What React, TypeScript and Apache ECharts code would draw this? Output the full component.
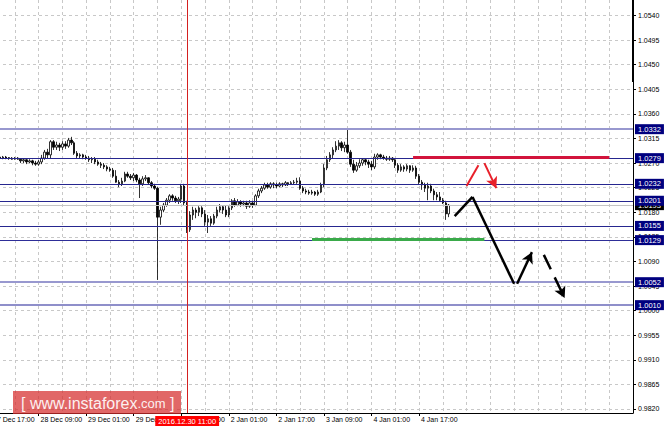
import React, { useEffect, useRef } from 'react';
import * as echarts from 'echarts';

// ---- data ----
const xTickLabels = ['27 Dec 17:00', '28 Dec 09:00', '29 Dec 01:00', '29 Dec 17:00', '30 Dec 09:00', '2 Jan 01:00', '2 Jan 17:00', '3 Jan 09:00', '4 Jan 01:00', '4 Jan 17:00'];
const barsPerLabel = 16;
const barsPerGridLine = 8;
const totalBars = 217;

// [open, close, low, high], one per hourly bar
const candles: number[][] = [
  [1.0279, 1.0281, 1.0277, 1.0283], [1.0281, 1.0279, 1.0277, 1.0283], [1.0279, 1.0281, 1.0277, 1.0285],
  [1.0281, 1.0279, 1.0277, 1.0285], [1.0279, 1.0281, 1.0277, 1.0283], [1.0281, 1.0279, 1.0277, 1.0283],
  [1.0279, 1.0280, 1.0276, 1.0281], [1.0279, 1.0277, 1.0276, 1.0281], [1.0277, 1.0279, 1.0276, 1.0281],
  [1.0279, 1.0277, 1.0276, 1.0281], [1.0277, 1.0274, 1.0270, 1.0279], [1.0274, 1.0276, 1.0270, 1.0279],
  [1.0276, 1.0272, 1.0268, 1.0277], [1.0272, 1.0274, 1.0270, 1.0277], [1.0274, 1.0270, 1.0266, 1.0276],
  [1.0270, 1.0268, 1.0265, 1.0274], [1.0268, 1.0272, 1.0265, 1.0276], [1.0272, 1.0279, 1.0268, 1.0285],
  [1.0279, 1.0290, 1.0276, 1.0294], [1.0290, 1.0285, 1.0279, 1.0296], [1.0285, 1.0309, 1.0279, 1.0312],
  [1.0309, 1.0299, 1.0294, 1.0312], [1.0299, 1.0303, 1.0294, 1.0309], [1.0303, 1.0299, 1.0292, 1.0307],
  [1.0299, 1.0305, 1.0294, 1.0310], [1.0305, 1.0301, 1.0296, 1.0310], [1.0301, 1.0312, 1.0298, 1.0316],
  [1.0312, 1.0307, 1.0303, 1.0318], [1.0307, 1.0288, 1.0285, 1.0310], [1.0288, 1.0283, 1.0279, 1.0292],
  [1.0283, 1.0285, 1.0279, 1.0288], [1.0285, 1.0281, 1.0277, 1.0287], [1.0281, 1.0279, 1.0276, 1.0285],
  [1.0279, 1.0276, 1.0272, 1.0283], [1.0276, 1.0277, 1.0270, 1.0281], [1.0277, 1.0272, 1.0268, 1.0281],
  [1.0272, 1.0268, 1.0265, 1.0276], [1.0268, 1.0266, 1.0261, 1.0272], [1.0266, 1.0263, 1.0259, 1.0270],
  [1.0263, 1.0259, 1.0255, 1.0266], [1.0259, 1.0257, 1.0254, 1.0263], [1.0257, 1.0246, 1.0243, 1.0261],
  [1.0246, 1.0235, 1.0234, 1.0257], [1.0235, 1.0232, 1.0226, 1.0239], [1.0232, 1.0237, 1.0228, 1.0243],
  [1.0237, 1.0250, 1.0235, 1.0254], [1.0250, 1.0246, 1.0243, 1.0254], [1.0246, 1.0243, 1.0239, 1.0250],
  [1.0243, 1.0248, 1.0237, 1.0252], [1.0248, 1.0239, 1.0235, 1.0250], [1.0239, 1.0232, 1.0206, 1.0243],
  [1.0232, 1.0241, 1.0228, 1.0246], [1.0241, 1.0243, 1.0237, 1.0248], [1.0243, 1.0234, 1.0230, 1.0244],
  [1.0234, 1.0228, 1.0224, 1.0237], [1.0228, 1.0224, 1.0221, 1.0232], [1.0224, 1.0171, 1.0056, 1.0226],
  [1.0171, 1.0184, 1.0157, 1.0190], [1.0184, 1.0193, 1.0180, 1.0197], [1.0193, 1.0202, 1.0190, 1.0206],
  [1.0202, 1.0210, 1.0197, 1.0213], [1.0210, 1.0206, 1.0201, 1.0213], [1.0206, 1.0201, 1.0197, 1.0210],
  [1.0201, 1.0204, 1.0195, 1.0208], [1.0204, 1.0228, 1.0197, 1.0232], [1.0228, 1.0197, 1.0193, 1.0232],
  [1.0197, 1.0148, 1.0142, 1.0201], [1.0148, 1.0175, 1.0144, 1.0182], [1.0175, 1.0184, 1.0166, 1.0190],
  [1.0184, 1.0180, 1.0169, 1.0188], [1.0180, 1.0188, 1.0173, 1.0191], [1.0188, 1.0177, 1.0171, 1.0191],
  [1.0177, 1.0162, 1.0155, 1.0184], [1.0162, 1.0168, 1.0142, 1.0175], [1.0168, 1.0160, 1.0155, 1.0173],
  [1.0160, 1.0173, 1.0157, 1.0177], [1.0173, 1.0184, 1.0169, 1.0190], [1.0184, 1.0190, 1.0180, 1.0195],
  [1.0190, 1.0184, 1.0177, 1.0193], [1.0184, 1.0175, 1.0171, 1.0193], [1.0175, 1.0188, 1.0171, 1.0191],
  [1.0188, 1.0201, 1.0184, 1.0204], [1.0201, 1.0193, 1.0190, 1.0206], [1.0193, 1.0199, 1.0191, 1.0204],
  [1.0199, 1.0195, 1.0190, 1.0202], [1.0195, 1.0197, 1.0191, 1.0201], [1.0197, 1.0191, 1.0186, 1.0201],
  [1.0191, 1.0197, 1.0188, 1.0202], [1.0197, 1.0193, 1.0188, 1.0201], [1.0193, 1.0210, 1.0191, 1.0213],
  [1.0210, 1.0219, 1.0206, 1.0223], [1.0219, 1.0224, 1.0215, 1.0228], [1.0224, 1.0230, 1.0221, 1.0234],
  [1.0230, 1.0226, 1.0223, 1.0234], [1.0226, 1.0232, 1.0223, 1.0235], [1.0232, 1.0230, 1.0224, 1.0235],
  [1.0230, 1.0228, 1.0224, 1.0234], [1.0228, 1.0232, 1.0226, 1.0235], [1.0232, 1.0230, 1.0226, 1.0234],
  [1.0230, 1.0234, 1.0228, 1.0237], [1.0234, 1.0232, 1.0228, 1.0235], [1.0232, 1.0234, 1.0230, 1.0237],
  [1.0234, 1.0235, 1.0230, 1.0239], [1.0235, 1.0237, 1.0232, 1.0243], [1.0237, 1.0224, 1.0221, 1.0244],
  [1.0224, 1.0219, 1.0215, 1.0228], [1.0219, 1.0217, 1.0213, 1.0223], [1.0217, 1.0215, 1.0212, 1.0221],
  [1.0215, 1.0217, 1.0212, 1.0221], [1.0217, 1.0213, 1.0210, 1.0219], [1.0213, 1.0217, 1.0210, 1.0221],
  [1.0217, 1.0230, 1.0215, 1.0234], [1.0230, 1.0261, 1.0226, 1.0268], [1.0261, 1.0276, 1.0257, 1.0283],
  [1.0276, 1.0285, 1.0272, 1.0290], [1.0285, 1.0294, 1.0279, 1.0299], [1.0294, 1.0301, 1.0290, 1.0310],
  [1.0301, 1.0307, 1.0294, 1.0312], [1.0307, 1.0298, 1.0292, 1.0310], [1.0298, 1.0303, 1.0290, 1.0309],
  [1.0303, 1.0290, 1.0287, 1.0334], [1.0290, 1.0268, 1.0263, 1.0294], [1.0268, 1.0257, 1.0252, 1.0276],
  [1.0257, 1.0265, 1.0254, 1.0272], [1.0265, 1.0270, 1.0261, 1.0277], [1.0270, 1.0276, 1.0265, 1.0279],
  [1.0276, 1.0272, 1.0266, 1.0279], [1.0272, 1.0268, 1.0261, 1.0276], [1.0268, 1.0263, 1.0257, 1.0274],
  [1.0263, 1.0281, 1.0259, 1.0287], [1.0281, 1.0285, 1.0276, 1.0288], [1.0285, 1.0281, 1.0277, 1.0287],
  [1.0281, 1.0279, 1.0276, 1.0285], [1.0279, 1.0277, 1.0274, 1.0283], [1.0277, 1.0279, 1.0274, 1.0283],
  [1.0279, 1.0276, 1.0272, 1.0281], [1.0276, 1.0266, 1.0261, 1.0279], [1.0266, 1.0257, 1.0252, 1.0270],
  [1.0257, 1.0263, 1.0254, 1.0268], [1.0263, 1.0259, 1.0254, 1.0266], [1.0259, 1.0265, 1.0255, 1.0268],
  [1.0265, 1.0257, 1.0252, 1.0266], [1.0257, 1.0261, 1.0254, 1.0266], [1.0261, 1.0246, 1.0241, 1.0265],
  [1.0246, 1.0235, 1.0230, 1.0250], [1.0235, 1.0230, 1.0221, 1.0239], [1.0230, 1.0224, 1.0217, 1.0234],
  [1.0224, 1.0228, 1.0202, 1.0234], [1.0228, 1.0219, 1.0215, 1.0232], [1.0219, 1.0212, 1.0202, 1.0223],
  [1.0212, 1.0208, 1.0202, 1.0217], [1.0208, 1.0202, 1.0199, 1.0217], [1.0202, 1.0197, 1.0195, 1.0206],
  [1.0197, 1.0177, 1.0166, 1.0201], [1.0177, 1.0193, 1.0171, 1.0195],
];

const yTickValues = [0.982, 0.9865, 0.991, 0.9955, 1.0, 1.0045, 1.009, 1.0135, 1.018, 1.0225, 1.027, 1.0315, 1.036, 1.0405, 1.045, 1.0495, 1.054];
const yMin = 0.98126;
const yMax = 1.05684;

const levelValues = [1.0332, 1.0279, 1.0232, 1.0201, 1.0155, 1.0129, 1.0052, 1.001];
const levelColors = ['#9898cf', '#26268f', '#26268f', '#26268f', '#26268f', '#2e2e98', '#9898cf', '#6a6ab8'];
const levelWidths = [2, 1, 1, 1, 1, 1.2, 2, 1.5];
const currentPrice = 1.0193;

const resistanceSegment = [[142, 1.0281], [208, 1.0281]];
const supportSegment = [[108, 1.0131], [166, 1.0131]];
const blackPath = [[156, 1.0173], [162, 1.0208], [176, 1.0049]];
const blackArrow = [[177, 1.0049], [182, 1.0107]];
const blackDashedArrow = [[186, 1.0102], [193, 1.0023]];
const redPath = [[160, 1.0228], [164, 1.0266]];
const redArrow = [[166, 1.027], [170, 1.0224]];
const crosshairBar = 66;
const crosshairLabel = '2016.12.30 11:00';

const FONT = '"Liberation Sans", Arial, sans-serif';

function seg(a: number[], b: number[], lineStyle: any, arrow: boolean) {
  return [
    { coord: a, symbol: 'none', lineStyle, label: { show: false } },
    { coord: b, symbol: arrow ? 'arrow' : 'none', symbolSize: arrow ? [9, 11] : 0 },
  ];
}

function priceTag(text: string, bg: string) {
  return {
    show: true, position: 'end', distance: 2, formatter: text,
    color: '#fff', backgroundColor: bg, padding: [1, 3, 0, 3],
    fontSize: 7.5, fontFamily: FONT, lineHeight: 9,
  };
}

export default function App() {
  const ref = useRef<HTMLDivElement>(null);
  useEffect(() => {
    if (!ref.current) return;
    const chart = echarts.init(ref.current, null, { renderer: 'svg' });
    const categories = Array.from({ length: totalBars }, (_, i) => String(i));
    const labelAt = (i: number) => i % barsPerLabel === 0 && i / barsPerLabel < xTickLabels.length;

    const levelLines = levelValues.map((v, k) => ({
      yAxis: v,
      lineStyle: { color: levelColors[k], width: levelWidths[k], type: 'solid' },
      label: priceTag(v.toFixed(4), '#00007f'),
    }));

    const black = { color: '#000', width: 2.5, type: 'solid' };
    const red = { color: '#e8202a', width: 2, type: 'solid' };

    const levelData: any[] = [
      {
        yAxis: currentPrice,
        lineStyle: { color: '#c4c4c4', width: 1, type: 'solid' },
        label: priceTag(currentPrice.toFixed(4), '#000'),
      },
      ...levelLines,
      {
        xAxis: crosshairBar,
        lineStyle: { color: '#d42020', width: 1, type: 'solid' },
        label: {
          show: true, position: 'start', distance: 3, formatter: crosshairLabel,
          color: '#fff', backgroundColor: '#ff0000', padding: [1, 3, 0, 3],
          fontSize: 7.5, fontFamily: FONT, lineHeight: 9,
        },
      },
    ];

    const drawData: any[] = [
      seg(resistanceSegment[0], resistanceSegment[1], { color: '#d2143c', width: 3, type: 'solid' }, false),
      seg(supportSegment[0], supportSegment[1], { color: '#3aaa4a', width: 3, type: 'solid' }, false),
      seg(blackPath[0], blackPath[1], black, false),
      seg(blackPath[1], blackPath[2], black, false),
      seg(blackArrow[0], blackArrow[1], black, true),
      seg(blackDashedArrow[0], blackDashedArrow[1], { color: '#000', width: 2.5, type: [16, 9] }, true),
      seg(redPath[0], redPath[1], red, false),
      seg(redArrow[0], redArrow[1], red, true),
    ];

    chart.setOption({
      animation: false,
      backgroundColor: '#ffffff',
      textStyle: { fontFamily: FONT },
      grid: { left: -9, right: 32, top: 0, bottom: 16, containLabel: false, outerBoundsMode: 'none' },
      xAxis: {
        type: 'category',
        data: categories,
        boundaryGap: false,
        axisLine: { show: true, lineStyle: { color: '#000', width: 1 } },
        axisTick: { show: true, length: 3, interval: (i: number) => labelAt(i), lineStyle: { color: '#000' } },
        axisLabel: {
          show: true, interval: (i: number) => labelAt(i), align: 'left', margin: 3,
          padding: [0, 0, 0, 2], color: '#000', fontSize: 7, fontFamily: FONT,
          formatter: (v: string) => {
            const i = Number(v);
            return labelAt(i) ? xTickLabels[i / barsPerLabel] : '';
          },
        },
        splitLine: {
          show: true, interval: (i: number) => i % barsPerGridLine === 0,
          lineStyle: { color: '#c8c8c8', type: [3, 3], width: 1 },
        },
      },
      yAxis: {
        type: 'value',
        position: 'right',
        min: yMin,
        max: yMax,
        axisLine: { show: true, lineStyle: { color: '#000', width: 1 } },
        axisTick: { show: true, length: 3, customValues: yTickValues, lineStyle: { color: '#000' } },
        axisLabel: {
          show: true, customValues: yTickValues, margin: 5, color: '#000', fontSize: 7, fontFamily: FONT,
          formatter: (v: number) => v.toFixed(4),
        },
        splitLine: { show: true, lineStyle: { color: '#c8c8c8', type: [3, 3], width: 1 } },
      },
      series: [
        {
          type: 'candlestick',
          data: candles,
          barWidth: 2,
          z: 3,
          itemStyle: {
            color: '#ffffff', color0: '#000000',
            borderColor: '#000000', borderColor0: '#000000', borderWidth: 0.8,
          },
        },
        {
          type: 'line',
          data: [],
          showSymbol: false,
          z: 2,
          markLine: {
            silent: true,
            animation: false,
            precision: 5,
            symbol: ['none', 'none'],
            label: { show: false },
            data: levelData,
          },
        },
        {
          type: 'line',
          data: [],
          showSymbol: false,
          z: 4,
          markLine: {
            silent: true,
            animation: false,
            precision: 5,
            symbol: ['none', 'none'],
            label: { show: false },
            data: drawData,
          },
        },
      ],
      graphic: [
        { type: 'rect', shape: { x: 632, y: 0, width: 2, height: 82 }, style: { fill: '#000' }, z: 50 },
        { type: 'rect', shape: { x: 13, y: 391, width: 168, height: 23 }, style: { fill: 'rgba(214,45,45,0.72)' }, z: 60 },
        {
          type: 'text', x: 21, y: 403, z: 61,
          style: {
            text: '{m|[ www.instaforex}{s|.com}{m| ]}',
            rich: {
              m: { fontSize: 16, fontFamily: FONT, fill: 'rgba(255,255,255,0.92)', color: 'rgba(255,255,255,0.92)' },
              s: { fontSize: 13, fontFamily: FONT, fill: 'rgba(255,255,255,0.92)', color: 'rgba(255,255,255,0.92)' },
            },
            fill: 'rgba(255,255,255,0.92)', verticalAlign: 'middle', align: 'left',
          },
        },
      ],
    });
    return () => chart.dispose();
  }, []);
  return <div ref={ref} style={{ position: 'fixed', left: 0, top: 0, width: 665, height: 429 }} />;
}
